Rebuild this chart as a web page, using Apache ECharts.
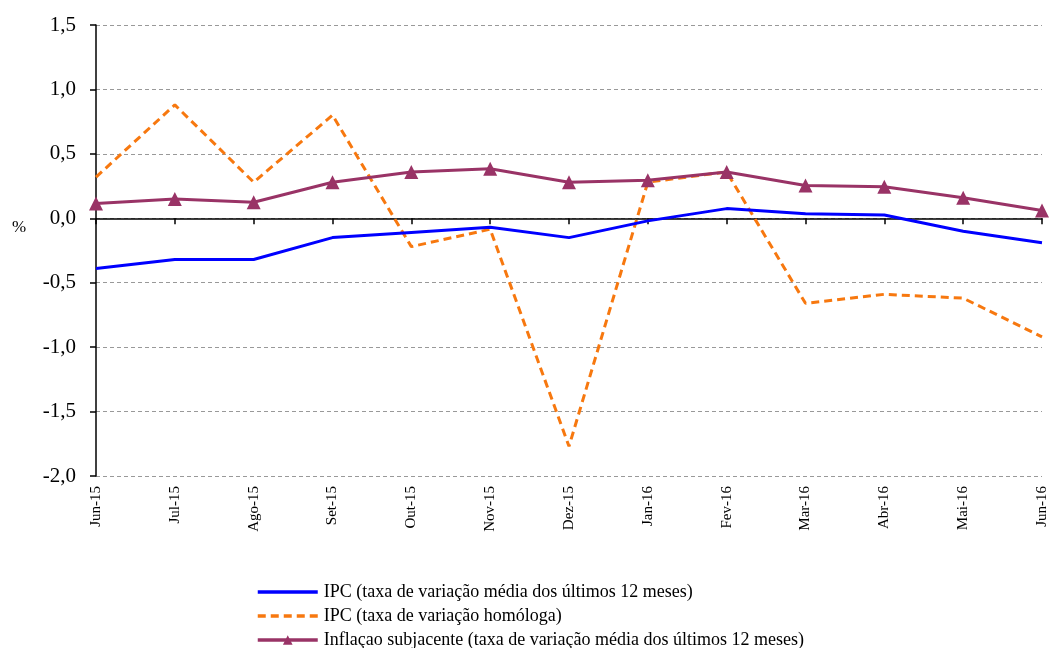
<!DOCTYPE html>
<html>
<head>
<meta charset="utf-8">
<script src="https://cdn.jsdelivr.net/npm/echarts@6/dist/echarts.min.js"></script>
<style>
  html, body { margin: 0; padding: 0; background: #fff; }
  #chart { width: 1051px; height: 648px; }
</style>
</head>
<body>
<div id="chart"></div>
<script>
// dados
const months = ['Jun-15', 'Jul-15', 'Ago-15', 'Set-15', 'Out-15', 'Nov-15', 'Dez-15',
    'Jan-16', 'Fev-16', 'Mar-16', 'Abr-16', 'Mai-16', 'Jun-16'];
const ipcMedia = [-0.39, -0.32, -0.32, -0.15, -0.11, -0.07, -0.15, -0.02, 0.075, 0.035, 0.025, -0.10, -0.19];
const ipcHomologa = [0.32, 0.88, 0.28, 0.80, -0.22, -0.085, -1.77, 0.28, 0.36, -0.66, -0.59, -0.62, -0.92];
const inflSubjacente = [0.115, 0.15, 0.125, 0.28, 0.36, 0.385, 0.28, 0.295, 0.36, 0.255, 0.245, 0.16, 0.06];

const seriesNames = [
    'IPC (taxa de variação média dos últimos 12 meses)',
    'IPC (taxa de variação homóloga)',
    'Inflaçao subjacente (taxa de variação média dos últimos 12 meses)'
];

const FONT = '"Liberation Serif", "Times New Roman", serif';
const NO_SYMBOL = { color: 'rgba(0,0,0,0)', borderWidth: 0 };

// uma legenda por linha, empilhadas
function legendRow(name, top, hideSymbol) {
    return {
        orient: 'horizontal',
        left: 251,
        top: top,
        itemWidth: 60,
        itemHeight: 12,
        itemGap: 6,
        lineStyle: { width: 3.5 },
        textStyle: { fontFamily: FONT, fontSize: 18, color: '#000', padding: [0, 0, 0, 1] },
        data: [hideSymbol ? { name: name, itemStyle: NO_SYMBOL } : name]
    };
}

const chart = echarts.init(document.getElementById('chart'));

chart.setOption({
    animation: false,
    textStyle: { fontFamily: FONT, color: '#000' },
    grid: { left: 96, right: 9, top: 25, bottom: 172 },
    xAxis: [
        {
            // linha do zero com marcas
            type: 'category',
            data: months,
            boundaryGap: false,
            axisLine: { onZero: true, lineStyle: { color: '#000', width: 1.5 } },
            axisTick: { show: true, length: 6, lineStyle: { color: '#000', width: 1.5 } },
            axisLabel: { show: false },
            splitLine: { show: false }
        },
        {
            // rótulos em baixo
            type: 'category',
            data: months,
            boundaryGap: false,
            position: 'bottom',
            axisLine: { show: false, onZero: false },
            axisTick: { show: false },
            axisLabel: {
                rotate: 90,
                margin: 10,
                fontSize: 15,
                fontFamily: FONT,
                color: '#000'
            },
            splitLine: { show: false }
        }
    ],
    yAxis: {
        type: 'value',
        min: -2,
        max: 1.5,
        interval: 0.5,
        axisLine: { show: true, lineStyle: { color: '#000', width: 1.5 } },
        axisTick: { show: true, length: 6, lineStyle: { color: '#000', width: 1.5 } },
        axisLabel: {
            fontSize: 21,
            fontFamily: FONT,
            color: '#000',
            margin: 20,
            formatter: v => v.toFixed(1).replace('.', ',')
        },
        splitLine: { show: true, lineStyle: { color: '#999', type: [4, 3], width: 1.2 } }
    },
    legend: [
        legendRow(seriesNames[0], 578, true),
        legendRow(seriesNames[1], 602, true),
        legendRow(seriesNames[2], 626, false)
    ],
    graphic: [
        {
            type: 'text',
            left: 12,
            top: 219,
            style: { text: '%', font: '17px ' + FONT, fill: '#000' }
        }
    ],
    series: [
        {
            name: seriesNames[0],
            type: 'line',
            data: ipcMedia,
            symbol: 'none',
            lineStyle: { color: '#0000FF', width: 3 },
            itemStyle: { color: '#0000FF' },
            z: 3
        },
        {
            name: seriesNames[1],
            type: 'line',
            data: ipcHomologa,
            symbol: 'none',
            lineStyle: { color: '#F7780F', width: 3, type: [8, 5] },
            itemStyle: { color: '#F7780F' },
            z: 2
        },
        {
            name: seriesNames[2],
            type: 'line',
            data: inflSubjacente,
            symbol: 'triangle',
            symbolSize: 14,
            lineStyle: { color: '#993366', width: 3 },
            itemStyle: { color: '#993366' },
            z: 4
        }
    ]
});
</script>
</body>
</html>
